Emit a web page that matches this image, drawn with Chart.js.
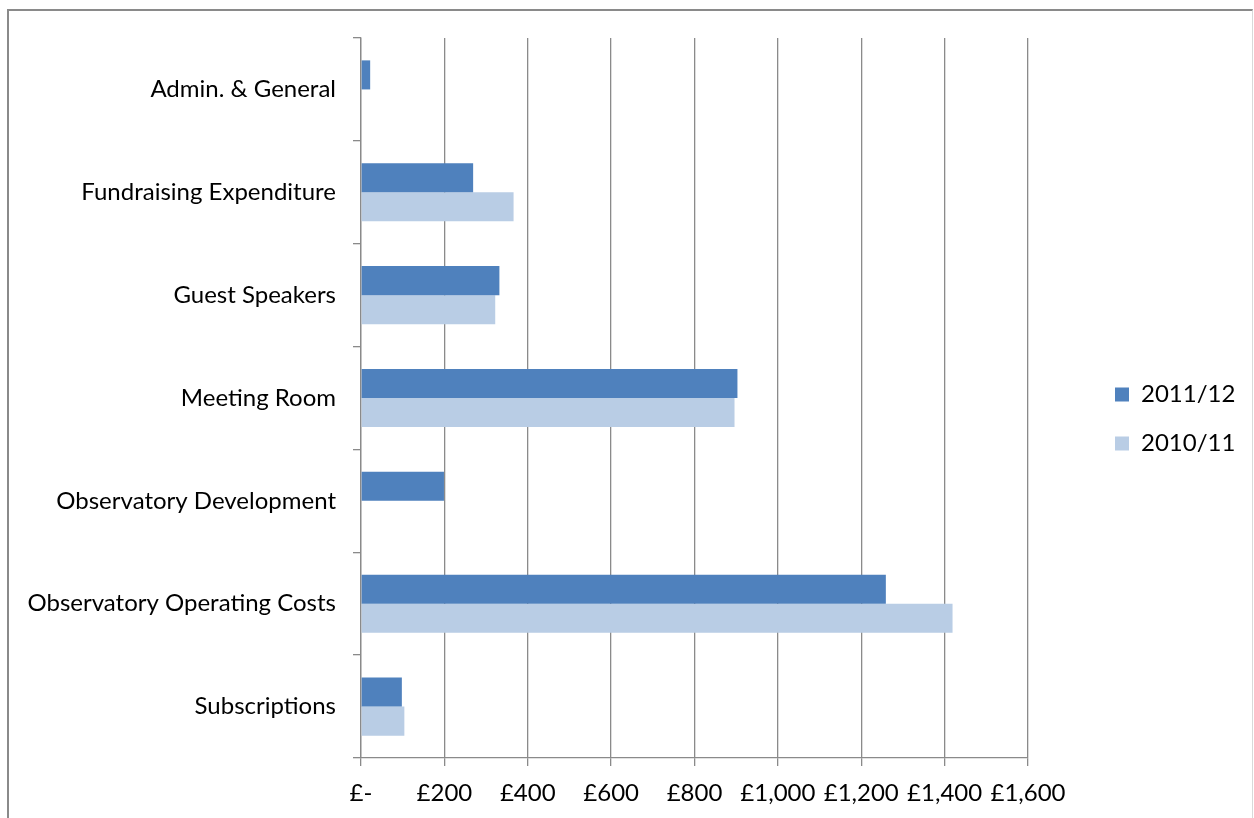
<!DOCTYPE html>
<html>
<head>
<meta charset="utf-8">
<script src="https://cdn.jsdelivr.net/npm/chart.js@4"></script>
<style>
  html, body { margin: 0; padding: 0; background: #fff; }
  #wrap { position: relative; width: 1254px; height: 818px; overflow: hidden; }
  #frame { position: absolute; left: 7px; top: 9px; width: 1243px; height: 900px;
           border-top: 2px solid #8a8a8a; border-left: 2px solid #8a8a8a; border-right: 1px solid #d9d9d9; }
  canvas { position: absolute; left: 0; top: 0; }
</style>
</head>
<body>
<div id="wrap">
  <div id="frame"></div>
  <canvas id="expChart" width="1254" height="818"></canvas>
</div>
<script>
  // categories and values
  const categories = ['Admin. & General', 'Fundraising Expenditure', 'Guest Speakers', 'Meeting Room',
    'Observatory Development', 'Observatory Operating Costs', 'Subscriptions'];
  const year2011 = [22, 269, 332, 903, 199, 1259, 98];
  const year2010 = [0, 366, 322, 896, 0, 1419, 104];
  const xTickLabels = ['£-', '£200', '£400', '£600', '£800', '£1,000', '£1,200', '£1,400', '£1,600'];

  const FONT = 'Lato';
  const FONT_SIZE = 24;
  const GRID = '#8a8a8a';
  const LEGEND_WIDTH = 226;   // leaves the plot ending at x = 1028
  const LEGEND_PAD = 25;

  // keep the legend a fixed width and nudge it to where the original has it
  const legendPlace = {
    id: 'legendPlace',
    afterInit(chart) {
      const legend = chart.legend;
      const fit = legend.fit;
      legend.fit = function () {
        fit.call(this);
        this.width = LEGEND_WIDTH;
      };
    },
    afterLayout(chart) {
      const legend = chart.legend;
      const dx = 1115 - LEGEND_PAD - legend.left;
      legend.left += dx;
      legend.right += dx;
      legend.top -= 9;
      legend.bottom -= 9;
    }
  };

  const ctx = document.getElementById('expChart').getContext('2d');
  new Chart(ctx, {
    type: 'bar',
    data: {
      labels: categories,
      datasets: [
        { label: '2011/12', data: year2011, backgroundColor: '#4f81bd' },
        { label: '2010/11', data: year2010, backgroundColor: '#b9cde5' }
      ]
    },
    options: {
      indexAxis: 'y',
      responsive: false,
      animation: false,
      categoryPercentage: 0.565,
      barPercentage: 1.0,
      layout: { padding: { top: 38, left: 0, right: 0, bottom: 0 } },
      plugins: {
        tooltip: { enabled: false },
        legend: {
          position: 'right',
          labels: {
            font: { family: FONT, size: FONT_SIZE },
            color: '#000',
            boxWidth: 14,
            boxHeight: 14,
            padding: LEGEND_PAD
          }
        }
      },
      scales: {
        x: {
          min: 0,
          max: 1600,
          ticks: {
            stepSize: 200,
            font: { family: FONT, size: FONT_SIZE },
            color: '#000',
            padding: 13,
            maxRotation: 0,
            callback: (value, index) => xTickLabels[index]
          },
          grid: { color: GRID, lineWidth: 1.3, tickLength: 8 },
          border: { color: GRID, width: 1.3 },
          afterFit: (scale) => { scale.height = 60; }
        },
        y: {
          ticks: {
            font: { family: FONT, size: FONT_SIZE },
            color: '#000',
            padding: 17
          },
          grid: { drawOnChartArea: false, color: GRID, lineWidth: 1.3, tickLength: 8, offset: true },
          border: { color: GRID, width: 1.3 },
          afterFit: (scale) => { scale.width = 361; }
        }
      }
    },
    plugins: [legendPlace]
  });
</script>
</body>
</html>
